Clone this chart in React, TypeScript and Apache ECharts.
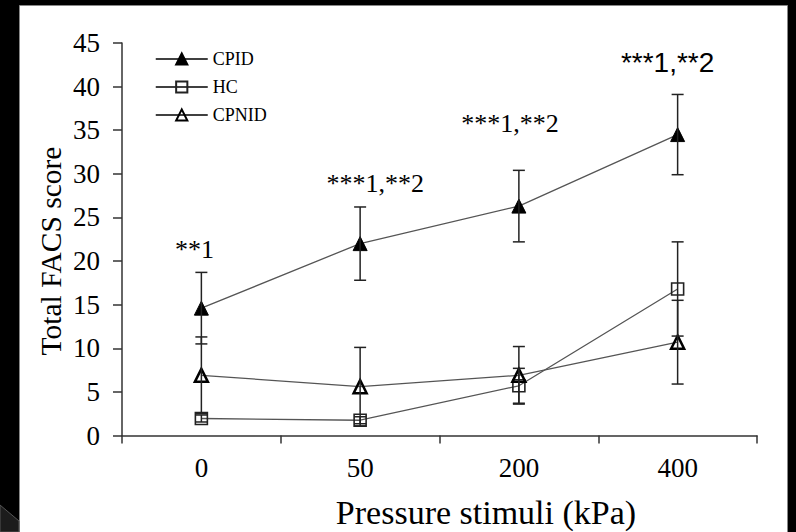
import React, { useEffect, useRef } from "react";
import * as echarts from "echarts";

const categories = ["0", "50", "200", "400"];
const cpid = [14.6, 22.0, 26.3, 34.5];
const cpidErr = [4.1, 4.2, 4.1, 4.6];
const hc = [1.95, 1.75, 5.7, 16.8];
const hcErr = [0.4, 0.4, 2.0, 5.4];
const cpnid = [6.9, 5.6, 6.9, 10.7];
const cpnidErr = [4.4, 4.5, 3.3, 4.8];
const annotTexts = ["**1", "***1,**2", "***1,**2", "***1,**2"];
const annotY = [21.3, 28.9, 35.8, 42.8];
const annotDx = [-7, 15, -9, -10];
const yTicks = { min: 0, max: 45, interval: 5 };

const SERIF = "Liberation Serif";
const SERIF_NUM = "'Liberation Serif', 'Times New Roman', serif";
const SANS = "'Liberation Sans', Arial, sans-serif";

function errData(vals: number[], errs: number[]) {
  return vals.map((v, i) => [i, v - errs[i], v + errs[i]]);
}

const renderErr = (params: any, api: any) => {
  const x = api.value(0);
  const lo = api.coord([x, api.value(1)]);
  const hi = api.coord([x, api.value(2)]);
  const w = 6;
  const st = { stroke: "#222", lineWidth: 1.5 };
  return {
    type: "group",
    children: [
      { type: "line", shape: { x1: hi[0], y1: hi[1], x2: lo[0], y2: lo[1] }, style: st },
      { type: "line", shape: { x1: hi[0] - w, y1: hi[1], x2: hi[0] + w, y2: hi[1] }, style: st },
      { type: "line", shape: { x1: lo[0] - w, y1: lo[1], x2: lo[0] + w, y2: lo[1] }, style: st },
    ],
  };
};

export default function App() {
  const ref = useRef<HTMLDivElement>(null);
  useEffect(() => {
    if (!ref.current) return;
    const chart = echarts.init(ref.current, null, { renderer: "svg" });
    const baseGraphic: any[] = [
      {
        type: "rect",
        z: -10,
        silent: true,
        shape: { x: 19.5, y: 5.5, width: 768, height: 530 },
        style: { fill: "#fff", stroke: "#888", lineWidth: 1 },
      },
      {
        type: "polygon",
        silent: true,
        shape: { points: [[0, 505], [19, 521], [19, 532], [0, 532]] },
        style: { fill: "#1c1c1c", stroke: "#555", lineWidth: 1 },
      },
      {
        type: "text",
        x: 51,
        y: 251,
        rotation: Math.PI / 2,
        style: {
          text: "Total FACS score",
          fontFamily: SERIF,
          fontSize: 29.5,
          fill: "#000",
          align: "center",
          verticalAlign: "middle",
        },
      },
      {
        type: "text",
        x: 486,
        y: 512,
        style: {
          text: "Pressure stimuli (kPa)",
          fontFamily: SERIF,
          fontSize: 34,
          fill: "#000",
          align: "center",
          verticalAlign: "middle",
        },
      },
    ];
    const option: any = {
      animation: false,
      backgroundColor: "#000",
      textStyle: { fontFamily: SERIF, color: "#000" },
      grid: { left: 122, right: 39, top: 43, bottom: 96.5, containLabel: false },
      legend: {
        orient: "vertical",
        left: 150,
        top: 45,
        itemWidth: 52,
        itemHeight: 14,
        itemGap: 10,
        lineStyle: { color: "#000", width: 1.5 },
        textStyle: { fontFamily: SERIF, fontSize: 18, color: "#000" },
        data: ["CPID", "HC", "CPNID"],
      },
      xAxis: {
        type: "category",
        data: categories,
        boundaryGap: true,
        axisLine: { lineStyle: { color: "#333", width: 1.5 } },
        axisTick: { show: true, length: 8, alignWithLabel: false, lineStyle: { color: "#333", width: 1.5 } },
        axisLabel: { show: false },
      },
      yAxis: {
        type: "value",
        min: yTicks.min,
        max: yTicks.max,
        interval: yTicks.interval,
        splitLine: { show: false },
        axisLine: { show: true, lineStyle: { color: "#333", width: 1.5 } },
        axisTick: { show: true, length: 9, lineStyle: { color: "#333", width: 1.5 } },
        axisLabel: { show: false },
      },
      graphic: baseGraphic,
      series: [
        {
          name: "CPID",
          type: "line",
          data: cpid,
          symbol: "triangle",
          symbolSize: [14, 14],
          z: 3,
          lineStyle: { color: "#555", width: 1.3 },
          itemStyle: { color: "#000", borderColor: "#000", borderWidth: 1 },
        },
        {
          name: "HC",
          type: "line",
          data: hc,
          symbol: "rect",
          symbolSize: 12,
          z: 3,
          lineStyle: { color: "#555", width: 1.3 },
          itemStyle: { color: "rgba(255,255,255,0)", borderColor: "#222", borderWidth: 1.6 },
        },
        {
          name: "CPNID",
          type: "line",
          data: cpnid,
          symbol: "triangle",
          symbolSize: [13, 13],
          z: 3,
          lineStyle: { color: "#555", width: 1.3 },
          itemStyle: { color: "rgba(255,255,255,0)", borderColor: "#000", borderWidth: 2.5 },
        },
        { type: "custom", name: "errCPID", data: errData(cpid, cpidErr), renderItem: renderErr, z: 4 },
        { type: "custom", name: "errHC", data: errData(hc, hcErr), renderItem: renderErr, z: 4 },
        { type: "custom", name: "errCPNID", data: errData(cpnid, cpnidErr), renderItem: renderErr, z: 4 },
      ],
    };
    chart.setOption(option);

    const extra: any[] = [];
    const yZero = chart.convertToPixel({ gridIndex: 0 }, [0, 0]) as number[];
    for (let v = yTicks.min; v <= yTicks.max; v += yTicks.interval) {
      const p = chart.convertToPixel({ gridIndex: 0 }, [0, v]) as number[];
      extra.push({
        type: "text",
        x: 100,
        y: p[1],
        style: {
          text: String(v),
          fontFamily: SERIF_NUM,
          fontSize: 27,
          fill: "#000",
          align: "right",
          verticalAlign: "middle",
        },
      });
    }
    categories.forEach((c, i) => {
      const p = chart.convertToPixel({ gridIndex: 0 }, [i, 0]) as number[];
      extra.push({
        type: "text",
        x: p[0],
        y: yZero[1] + 32,
        style: {
          text: c,
          fontFamily: SERIF_NUM,
          fontSize: 27,
          fill: "#000",
          align: "center",
          verticalAlign: "middle",
        },
      });
    });
    annotTexts.forEach((t, i) => {
      const p = chart.convertToPixel({ gridIndex: 0 }, [i, annotY[i]]) as number[];
      extra.push({
        type: "text",
        x: p[0] + annotDx[i],
        y: p[1],
        style: {
          text: t,
          fontFamily: i === 3 ? SANS : SERIF_NUM,
          fontSize: i === 3 ? 28 : 26,
          fill: "#000",
          align: "center",
          verticalAlign: "middle",
        },
      });
    });
    chart.setOption({ graphic: baseGraphic.concat(extra) });
    return () => chart.dispose();
  }, []);
  return <div ref={ref} style={{ position: "absolute", left: 0, top: 0, width: 796, height: 532 }} />;
}
